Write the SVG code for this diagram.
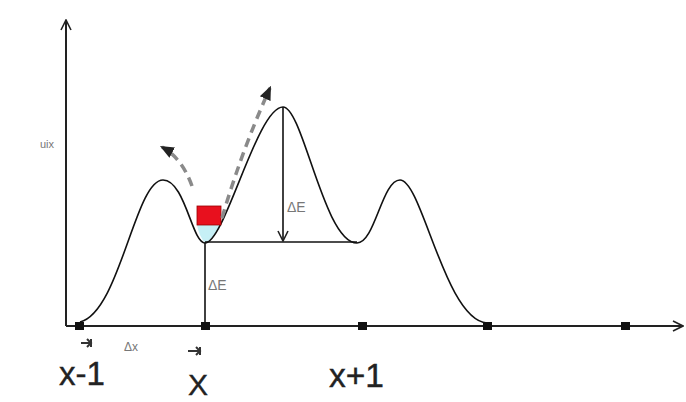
<svg xmlns="http://www.w3.org/2000/svg" width="686" height="402" viewBox="0 0 686 402">
<style>
.ax{stroke:#222;stroke-width:2;fill:none}
.ln{stroke:#111;stroke-width:1.6;fill:none}
.dash{stroke:#8a8a8a;stroke-width:3.5;fill:none;stroke-dasharray:9 6}
.sq{fill:#111}
.big{font-family:"Liberation Sans",Arial,sans-serif;fill:#222;stroke:#222;stroke-width:0.4}
.sm{font-family:"Liberation Sans",Arial,sans-serif;fill:#777}
</style>
<defs>
<marker id="open" viewBox="0 0 12 12" refX="11" refY="6" markerWidth="12" markerHeight="12" markerUnits="userSpaceOnUse" orient="auto">
<path d="M1,1 L11,6 L1,11" fill="none" stroke="#222" stroke-width="1.6"/>
</marker>
<marker id="fill" viewBox="0 0 12 12" refX="10" refY="6" markerWidth="14" markerHeight="14" markerUnits="userSpaceOnUse" orient="auto">
<path d="M0,1 L12,6 L0,11 z" fill="#222"/>
</marker>
</defs>
<rect width="686" height="402" fill="#fff"/>
<g id="axes">
<line class="ax" x1="66" y1="326" x2="66" y2="20" marker-end="url(#open)"/>
<line class="ax" x1="66" y1="326" x2="683" y2="326" marker-end="url(#open)"/>
</g>
<g id="well">
<path d="M197,225 L221,225 Q214,238 205,243 Q199,236 197,225 z" fill="#c6f0f6"/>
</g>
<g id="curve">
<path class="ln" d="M80,322 C120,312 135,180 163,180 C185,180 192,243 205,243 C225,243 257,107 283,107 C303,107 324,243 357,243 C375,243 382,180 400,180 C422,180 445,320 487,323"/>
</g>
<g id="particle">
<rect x="197" y="206" width="24" height="19" fill="#e8101e" stroke="#900" stroke-width="0.8"/>
</g>
<g id="connectors">
<line class="ln" x1="205" y1="242" x2="357" y2="242"/>
<line class="ln" x1="205" y1="243" x2="205" y2="326"/>
<line class="ln" x1="283" y1="107" x2="283" y2="241" marker-end="url(#open)"/>
<path class="dash" d="M192,186 Q182,158 162,147" marker-end="url(#fill)"/>
<path class="dash" d="M222,218 Q242,150 270,88" marker-end="url(#fill)"/>
<path d="M81,343 L91,343 M87,339 L91,343 L87,347 M91,339 L91,347" stroke="#333" stroke-width="2" fill="none"/>
<path d="M188,351 L200,351 M196,347 L200,351 L196,355 M200,347 L200,355" stroke="#333" stroke-width="2" fill="none"/>
</g>
<g id="ticks">
<rect class="sq" x="75" y="322" width="9" height="8"/>
<rect class="sq" x="201" y="322" width="9" height="8"/>
<rect class="sq" x="358" y="322" width="9" height="8"/>
<rect class="sq" x="483" y="322" width="9" height="8"/>
<rect class="sq" x="621" y="322" width="9" height="8"/>
</g>
<g id="labels">
<text class="sm" x="40" y="148" font-size="11">uix</text>
<text class="sm" x="208" y="290" font-size="14">ΔE</text>
<text class="sm" x="287" y="212" font-size="14">ΔE</text>
<text class="sm" x="124" y="351" font-size="12">Δx</text>
<text class="big" x="59" y="385" font-size="34" textLength="46" lengthAdjust="spacingAndGlyphs">x-1</text>
<text class="big" x="188" y="395" font-size="30">X</text>
<text class="big" x="329" y="387" font-size="33" textLength="55" lengthAdjust="spacingAndGlyphs">x+1</text>
</g>
</svg>
